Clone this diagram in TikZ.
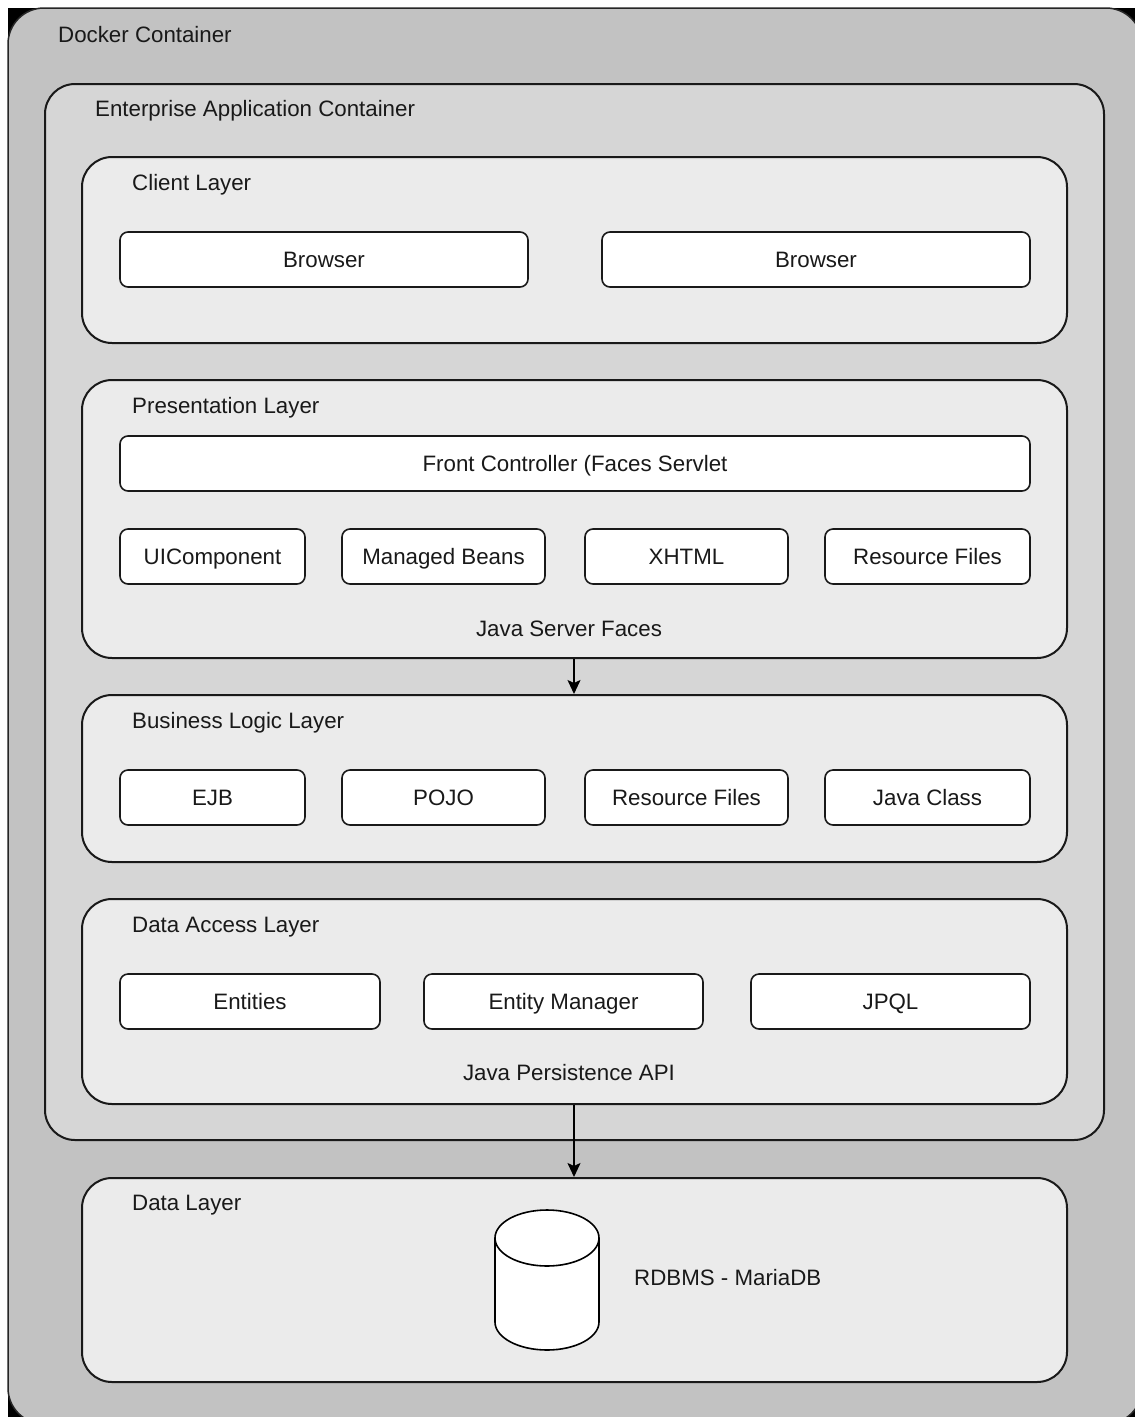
\documentclass[tikz,border=0pt]{standalone}
\usepackage{fontspec}
\setmainfont{Liberation Sans}
\usetikzlibrary{arrows.meta}
\definecolor{dockergrey}{HTML}{C2C2C2}
\definecolor{entgrey}{HTML}{D6D6D6}
\definecolor{layergrey}{HTML}{EBEBEB}
\begin{document}
\begin{tikzpicture}[x=1pt,y=-1pt,
  every node/.style={font=\fontsize{22.3}{26}\selectfont, text=black!90, text height=16pt, text depth=0pt},
  docker/.style={draw=black!85, line width=1.5pt, fill=dockergrey, rounded corners=36pt},
  ent/.style={draw=black!90, line width=2pt, fill=entgrey, rounded corners=30pt},
  layer/.style={draw=black!90, line width=2pt, fill=layergrey, rounded corners=30pt},
  item/.style={draw=black!90, line width=1.6pt, fill=white, rounded corners=8pt},
  ttl/.style={anchor=west, inner sep=0pt},
  flow/.style={line width=1.8pt, -{Stealth[length=14pt,width=13pt,inset=3pt]}}
]
\useasboundingbox (0,0) rectangle (1135,1417);
\fill[white] (0,0) rectangle (1135,1417);
\fill[black] (8,8) rectangle (1135,1417);
% Docker container
\draw[docker] (8,8) rectangle (1142,1424);
\node[ttl] (tdocker) at (58,34) {Docker Container};
% Enterprise container
\draw[ent] (45,84) rectangle (1104,1140);
\node[ttl] (tent) at (95,108) {Enterprise Application Container};
% Client layer
\draw[layer] (82,157) rectangle (1067,343);
\node[ttl] (tclient) at (132,182) {Client Layer};
\draw[item] (120,232) rectangle node (b1) {Browser} (528,287);
\draw[item] (602,232) rectangle node (b2) {Browser} (1030,287);
% Presentation layer
\node[layer, minimum width=985pt, minimum height=278pt, inner sep=0pt] (pres) at (574.5,519) {};
\node[ttl] (tpres) at (132,405) {Presentation Layer};
\draw[item] (120,436) rectangle node (fc) {Front Controller (Faces Servlet} (1030,491);
\draw[item] (120,529) rectangle node (ui) {UIComponent} (305,584);
\draw[item] (342,529) rectangle node (mb) {Managed Beans} (545,584);
\draw[item] (585,529) rectangle node (xh) {XHTML} (788,584);
\draw[item] (825,529) rectangle node (rf1) {Resource Files} (1030,584);
\node (jsf) at (569,628) {Java Server Faces};
% Business logic layer
\node[layer, minimum width=985pt, minimum height=167pt, inner sep=0pt] (biz) at (574.5,778.5) {};
\node[ttl] (tbiz) at (132,720) {Business Logic Layer};
\draw[item] (120,770) rectangle node (ejb) {EJB} (305,825);
\draw[item] (342,770) rectangle node (pojo) {POJO} (545,825);
\draw[item] (585,770) rectangle node (rf2) {Resource Files} (788,825);
\draw[item] (825,770) rectangle node (jc) {Java Class} (1030,825);
% Data access layer
\node[layer, minimum width=985pt, minimum height=205pt, inner sep=0pt] (dal) at (574.5,1001.5) {};
\node[ttl] (tdal) at (132,924) {Data Access Layer};
\draw[item] (120,974) rectangle node (ent) {Entities} (380,1029);
\draw[item] (424,974) rectangle node (em) {Entity Manager} (703,1029);
\draw[item] (751,974) rectangle node (jpql) {JPQL} (1030,1029);
\node (jpa) at (569,1072) {Java Persistence API};
% Data layer
\node[layer, minimum width=985pt, minimum height=204pt, inner sep=0pt] (dl) at (574.5,1280) {};
\node[ttl] (tdl) at (132,1202) {Data Layer};
\draw[line width=1.6pt, fill=white] (495,1238) -- (495,1322)
  arc[start angle=180, end angle=0, x radius=52, y radius=28]
  -- (599,1238)
  arc[start angle=0, end angle=-180, x radius=52, y radius=28] -- cycle;
\draw[line width=1.6pt] (495,1238) arc[start angle=180, end angle=0, x radius=52, y radius=28];
\node[anchor=west, inner sep=0pt] (db) at (634,1277) {RDBMS - MariaDB};
% Arrows
\draw[flow] (pres.south -| 574,0) -- (biz.north -| 574,0);
\draw[flow] (dal.south -| 574,0) -- (dl.north -| 574,0);
\end{tikzpicture}
\end{document}
